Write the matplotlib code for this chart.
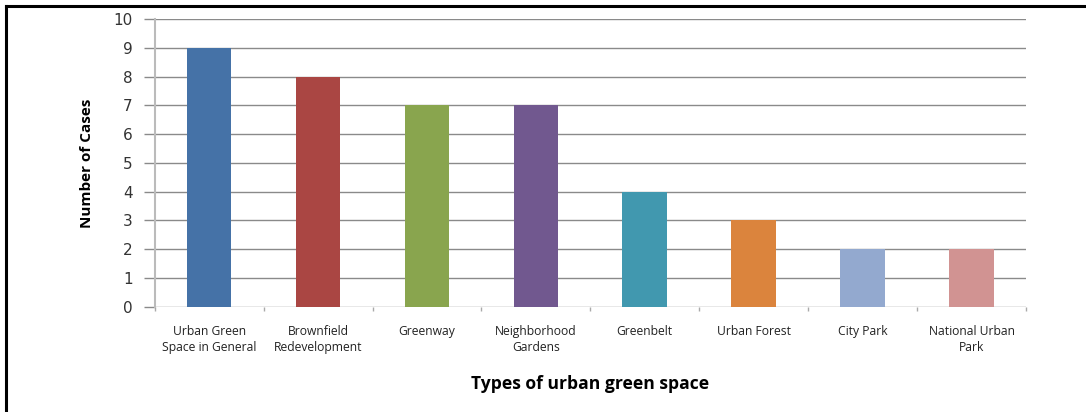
import matplotlib
matplotlib.use("Agg")
import matplotlib.pyplot as plt
from matplotlib.lines import Line2D
import numpy as np

categories = [
    "Urban Green\nSpace in General",
    "Brownfield\nRedevelopment",
    "Greenway",
    "Neighborhood\nGardens",
    "Greenbelt",
    "Urban Forest",
    "City Park",
    "National Urban\nPark",
]
cases = [9, 8, 7, 7, 4, 3, 2, 2]
colors = ["#4572A7", "#AA4643", "#89A54E", "#71588F",
          "#4198AF", "#DB843D", "#93A9CF", "#D19392"]
yticks = list(range(0, 11))

plt.rcParams["font.family"] = ["Open Sans", "DejaVu Sans"]

W, H = 1086, 412
fig = plt.figure(figsize=(W / 100, H / 100), dpi=100)
ax = fig.add_axes([154.7 / W, 1 - 306.7 / H, (1026 - 154.7) / W, (306.7 - 19) / H])

x = np.arange(len(categories))
ax.bar(x, cases, width=0.41, color=colors, zorder=3)

ax.set_xlim(-0.5, len(categories) - 0.5)
ax.set_ylim(0, 10)
ax.set_yticks(yticks)
ax.set_yticklabels([str(v) for v in yticks], fontsize=11, color="#333333",
                   family=["DejaVu Sans"])
ax.yaxis.grid(True, color="#8a8a8a", linewidth=1.0, zorder=0)
ax.tick_params(axis="y", length=8, color="#8a8a8a", width=1.0, pad=8)

ax.set_xticks(x)
ax.set_xticklabels(categories, fontsize=8.7, color="#222222", linespacing=1.3)
ax.set_xticks(np.arange(-0.5, len(categories), 1.0), minor=True)
ax.tick_params(axis="x", which="major", length=0, pad=13)
ax.tick_params(axis="x", which="minor", length=3, color="#aaaaaa", width=1.0)

for side in ("top", "right", "bottom"):
    ax.spines[side].set_visible(False)
ax.spines["left"].set_color("#bbbbbb")
ax.spines["left"].set_linewidth(1.5)

ax.set_ylabel("Number of Cases", fontsize=11, fontweight="bold", labelpad=14)
ax.set_xlabel("Types of urban green space", fontsize=12.6, fontweight="bold", labelpad=15)

# outer frame around the chart
fig.add_artist(Line2D([6 / W, 1.0], [1 - 6 / H, 1 - 6 / H], color="black", linewidth=2.2,
                      transform=fig.transFigure))
fig.add_artist(Line2D([6 / W, 6 / W], [0.0, 1 - 6 / H], color="black", linewidth=2.2,
                      transform=fig.transFigure))

fig.savefig("out.png", dpi=100)
